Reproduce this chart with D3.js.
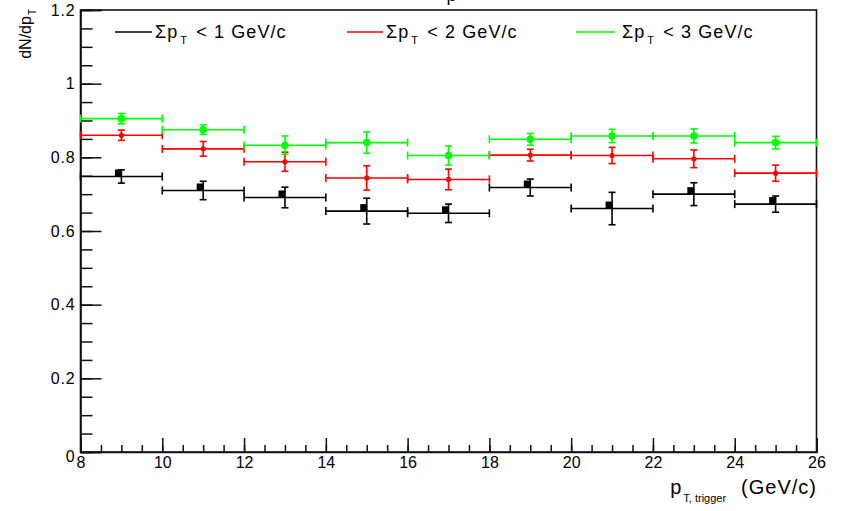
<!DOCTYPE html>
<html>
<head>
<meta charset="utf-8">
<script src="https://cdn.jsdelivr.net/npm/d3@7"></script>
<style>
  html, body { margin: 0; padding: 0; background: #fff; }
  svg { display: block; }
  text { font-family: "Liberation Sans", Arial, sans-serif; fill: #000; }
</style>
</head>
<body>
<svg id="chart" width="841" height="511"></svg>
<script>
// ---- data ----
const binCenters = [9, 11, 13, 15, 17, 19, 21, 23, 25];
const binHalfWidth = 1;
const seriesNames = ["1", "2", "3"];
const seriesColors = ["#000000", "#ff0000", "#00ff00"];
const valuesSum1 = [0.748, 0.710, 0.691, 0.654, 0.648, 0.718, 0.661, 0.700, 0.673];
const errorsSum1 = [0.018, 0.025, 0.028, 0.035, 0.025, 0.023, 0.044, 0.031, 0.022];
const valuesSum2 = [0.860, 0.823, 0.788, 0.744, 0.740, 0.806, 0.805, 0.796, 0.757];
const errorsSum2 = [0.014, 0.020, 0.026, 0.033, 0.028, 0.016, 0.022, 0.024, 0.022];
const valuesSum3 = [0.905, 0.875, 0.833, 0.840, 0.805, 0.849, 0.858, 0.858, 0.840];
const errorsSum3 = [0.014, 0.013, 0.025, 0.029, 0.026, 0.016, 0.018, 0.019, 0.017];
const xTicks = [8, 10, 12, 14, 16, 18, 20, 22, 24, 26];
const yTicks = [0, 0.2, 0.4, 0.6, 0.8, 1, 1.2];
const xDomain = [8, 26];
const yDomain = [0, 1.2];

const series = [
  { name: seriesNames[0], color: seriesColors[0], values: valuesSum1, errors: errorsSum1, marker: "square" },
  { name: seriesNames[1], color: seriesColors[1], values: valuesSum2, errors: errorsSum2, marker: "small" },
  { name: seriesNames[2], color: seriesColors[2], values: valuesSum3, errors: errorsSum3, marker: "circle" }
];

// ---- layout ----
const L = 80.5, R = 816.5, T = 10, B = 452;
const svg = d3.select("#chart");
const x = d3.scaleLinear().domain(xDomain).range([L, R]);
const y = d3.scaleLinear().domain(yDomain).range([B, T]);

// title fragment at the very top (cut off in the original)
svg.append("text").attr("x", 446.5).attr("y", 0.5).attr("font-size", 18).text("p");

// frame
svg.append("rect").attr("x", L).attr("y", T).attr("width", R - L).attr("height", B - T)
  .attr("fill", "none").attr("stroke", "#111").attr("stroke-width", 1.6);

// y axis minor ticks
const yMinor = d3.range(0, 1.2001, 0.05).map(v => +v.toFixed(2));
svg.append("g").attr("transform", `translate(${L},0)`)
  .call(d3.axisLeft(y).tickValues(yMinor).tickSize(-12).tickFormat(""))
  .call(g => g.select(".domain").remove())
  .call(g => g.selectAll("line").attr("stroke", "#111").attr("stroke-width", 1.5));
// y axis major
svg.append("g").attr("transform", `translate(${L},0)`)
  .call(d3.axisLeft(y).tickValues(yTicks).tickSize(-21).tickPadding(5).tickFormat(d3.format("~g")))
  .call(g => g.select(".domain").attr("stroke", "#111").attr("stroke-width", 1.6))
  .call(g => g.selectAll("line").attr("stroke", "#111").attr("stroke-width", 1.5))
  .call(g => g.selectAll("text").attr("font-size", 16).attr("letter-spacing", "0.8px")
    .attr("font-family", "Liberation Sans, Arial, sans-serif").attr("fill", "#000")
    .attr("dy", d => d === 0 ? "0.6em" : "0.32em"));

// x axis minor ticks
const xMinor = d3.range(8, 26.001, 0.5);
svg.append("g").attr("transform", `translate(0,${B})`)
  .call(d3.axisBottom(x).tickValues(xMinor).tickSize(-7).tickFormat(""))
  .call(g => g.select(".domain").remove())
  .call(g => g.selectAll("line").attr("stroke", "#111").attr("stroke-width", 1.5));
// x axis major
svg.append("g").attr("transform", `translate(0,${B})`)
  .call(d3.axisBottom(x).tickValues(xTicks).tickSize(-14).tickPadding(5).tickFormat(d3.format("d")))
  .call(g => g.select(".domain").attr("stroke", "#111").attr("stroke-width", 1.6))
  .call(g => g.selectAll("line").attr("stroke", "#111").attr("stroke-width", 1.5))
  .call(g => g.selectAll("text").attr("font-size", 16)
    .attr("font-family", "Liberation Sans, Arial, sans-serif").attr("fill", "#000"));

// data
const capH = 4, capV = 3.5;
series.forEach(s => {
  const g = svg.append("g").attr("stroke", s.color).attr("fill", s.color).attr("stroke-width", 1.6);
  binCenters.forEach((c, i) => {
    const v = s.values[i], e = s.errors[i];
    const cx = x(c), cy = y(v);
    const x0 = x(c - binHalfWidth), x1 = x(c + binHalfWidth);
    g.append("line").attr("x1", x0).attr("x2", x1).attr("y1", cy).attr("y2", cy);
    g.append("line").attr("x1", x0).attr("x2", x0).attr("y1", cy - capH).attr("y2", cy + capH);
    g.append("line").attr("x1", x1).attr("x2", x1).attr("y1", cy - capH).attr("y2", cy + capH);
    const yt = y(v + e), yb = y(v - e);
    g.append("line").attr("x1", cx).attr("x2", cx).attr("y1", yt).attr("y2", yb);
    g.append("line").attr("x1", cx - capV).attr("x2", cx + capV).attr("y1", yt).attr("y2", yt);
    g.append("line").attr("x1", cx - capV).attr("x2", cx + capV).attr("y1", yb).attr("y2", yb);
    if (s.marker === "square") {
      g.append("rect").attr("x", cx - 6.5).attr("y", cy - 7).attr("width", 7).attr("height", 7).attr("stroke", "none");
    } else if (s.marker === "small") {
      g.append("circle").attr("cx", cx).attr("cy", cy).attr("r", 2.6).attr("stroke", "none");
    } else {
      g.append("circle").attr("cx", cx).attr("cy", cy).attr("r", 3.8).attr("stroke", "none");
    }
  });
});

// legend
const legendX = [115, 347, 576];
const legendLen = [37, 36, 39];
series.forEach((s, i) => {
  const lx = legendX[i];
  svg.append("line").attr("x1", lx).attr("x2", lx + legendLen[i]).attr("y1", 32).attr("y2", 32)
    .attr("stroke", s.color).attr("stroke-width", 1.6);
  const t = svg.append("text").attr("x", lx + legendLen[i] + 3 + (i === 2 ? 4 : 0)).attr("y", 38)
    .attr("font-size", 18).attr("letter-spacing", "1.1px");
  t.append("tspan").text("Σp");
  t.append("tspan").attr("font-size", 11).attr("dy", 6).attr("dx", 2).text("T");
  t.append("tspan").attr("dy", -6).attr("dx", 2).text(" < " + s.name + " GeV/c");
});

// y axis title
const ytl = svg.append("text").attr("transform", "translate(31,9) rotate(-90)")
  .attr("text-anchor", "end").attr("font-size", 16);
ytl.append("tspan").text("dN/dp");
ytl.append("tspan").attr("font-size", 10).attr("dy", 5).attr("dx", 1).text("T");

// x axis title
const xt = svg.append("text").attr("x", 817).attr("y", 494).attr("text-anchor", "end").attr("font-size", 20).attr("letter-spacing", "1px");
xt.append("tspan").text("p");
xt.append("tspan").attr("font-size", 11).attr("dy", 8).attr("dx", 1).attr("letter-spacing", "0px").text("T, trigger");
xt.append("tspan").attr("dy", -8).attr("dx", 15).text("(GeV/c)");
</script>
</body>
</html>
